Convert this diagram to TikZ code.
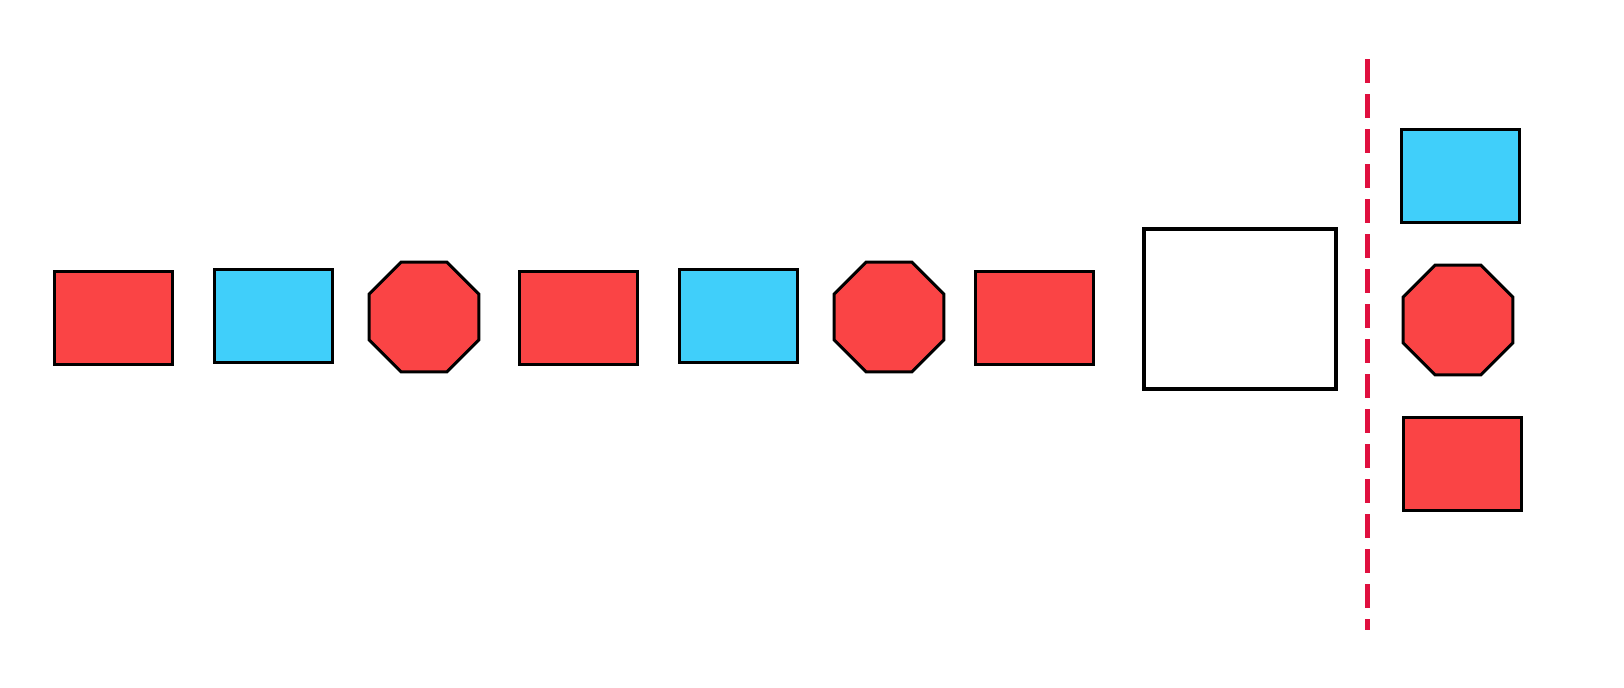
\documentclass[tikz,border=0pt]{standalone}
\usepackage{tikz}
\usetikzlibrary{shapes.geometric}
\definecolor{tokred}{HTML}{FA4445}
\definecolor{tokblue}{HTML}{40CFFA}
\definecolor{cutred}{HTML}{E0103F}

\begin{document}
\begin{tikzpicture}[x=0.5pt,y=-0.5pt,
  tok/.style={draw=black,line width=1.5pt,inner sep=0pt,minimum width=59pt,minimum height=46.5pt},
  oct/.style={draw=black,line width=1.5pt,inner sep=0pt,fill=tokred,regular polygon,regular polygon sides=8,minimum size=59.5pt},
  slot/.style={draw=black,line width=1.7pt,inner sep=0pt,fill=white,minimum width=96pt,minimum height=80pt}]
  \useasboundingbox[fill=white] (0,0) rectangle (1624,687);
  % queue
  \node[tok,fill=tokred]  (r1) at (113.5,317.5) {};
  \node[tok,fill=tokblue] (b1) at (273,316) {};
  \node[oct]              (o1) at (424,317) {};
  \node[tok,fill=tokred]  (r2) at (578,317.5) {};
  \node[tok,fill=tokblue] (b2) at (738,316) {};
  \node[oct]              (o2) at (889,317) {};
  \node[tok,fill=tokred]  (r3) at (1034,317.5) {};
  \node[slot]             (s)  at (1240,309) {};
  % cut line
  \coordinate (ctop) at (1367,59);
  \coordinate (cbot) at (1367,630);
  \draw[cutred,line width=2.5pt,dash pattern=on 12pt off 5.5pt] (ctop) -- (cbot);
  % out
  \node[tok,fill=tokblue] (bo) at (1460,175.5) {};
  \node[oct]              (oo) at (1458,320) {};
  \node[tok,fill=tokred]  (ro) at (1462.5,463.5) {};
\end{tikzpicture}
\end{document}
